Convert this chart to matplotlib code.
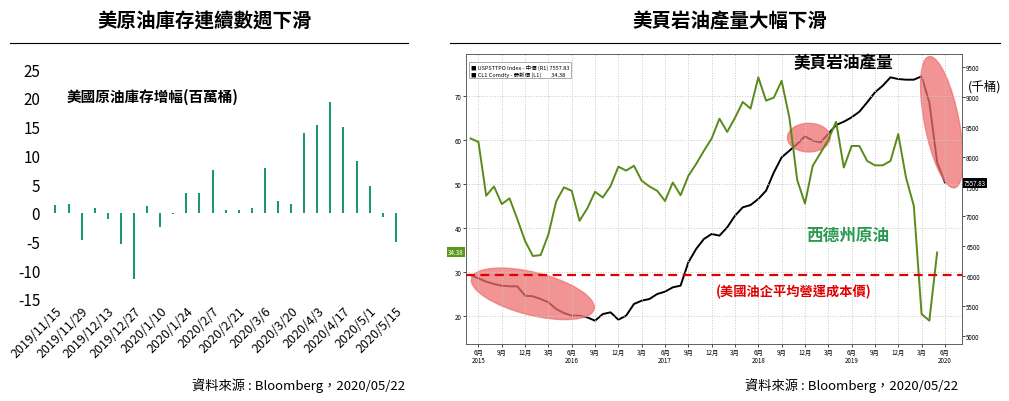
import matplotlib
matplotlib.use("Agg")
import matplotlib.pyplot as plt
from matplotlib.patches import Ellipse
import numpy as np

plt.rcParams['font.family'] = ['Noto Sans CJK TC', 'DejaVu Sans']

# ---- left chart data ----
weeks = ["2019/11/15","2019/11/22","2019/11/29","2019/12/6","2019/12/13","2019/12/20","2019/12/27",
         "2020/1/3","2020/1/10","2020/1/17","2020/1/24","2020/1/31","2020/2/7","2020/2/14","2020/2/21",
         "2020/2/28","2020/3/6","2020/3/13","2020/3/20","2020/3/27","2020/4/3","2020/4/10","2020/4/17",
         "2020/4/24","2020/5/1","2020/5/8","2020/5/15"]
inv_change = [1.3, 1.6, -4.8, 0.8, -1.1, -5.5, -11.5, 1.2, -2.5, -0.3, 3.5, 3.4, 7.5, 0.4, 0.4,
              0.8, 7.7, 2.0, 1.6, 13.8, 15.2, 19.2, 15.0, 9.0, 4.6, -0.7, -5.0]
left_yticks = [-15, -10, -5, 0, 5, 10, 15, 20, 25]

# ---- right chart data (monthly, May 2015 onward) ----
wti = [60.3, 59.5, 47.3, 49.4, 45.4, 46.7, 42.0, 37.0, 33.6, 33.8, 38.5, 46.0, 49.2, 48.4, 41.6,
       44.4, 48.2, 46.9, 49.5, 53.9, 53.0, 54.1, 50.7, 49.4, 48.4, 46.1, 50.3, 47.4, 51.8, 54.5,
       57.5, 60.3, 64.8, 61.8, 65.0, 68.6, 67.1, 74.2, 68.9, 69.6, 73.4, 65.0, 50.9, 45.5, 54.1,
       57.0, 60.0, 64.1, 53.7, 58.6, 58.6, 55.2, 54.2, 54.2, 55.2, 61.3, 51.4, 45.0, 20.4, 18.9, 34.4]
shale = [6016, 5960, 5904, 5865, 5837, 5826, 5826, 5669, 5658, 5613, 5557, 5445, 5378, 5333, 5333,
         5305, 5249, 5361, 5389, 5266, 5333, 5529, 5585, 5613, 5697, 5736, 5809, 5837, 6228, 6452,
         6620, 6704, 6676, 6816, 7011, 7151, 7190, 7291, 7431, 7738, 7990, 8102, 8214, 8342, 8270,
         8242, 8382, 8532, 8588, 8661, 8756, 8913, 9080, 9192, 9332, 9304, 9293, 9293, 9349, 8913,
         7906, 7570]
cost_line = 29.3
left2_ticks = [20, 30, 40, 50, 60, 70]
right2_ticks = [5000, 5500, 6000, 6500, 7000, 7500, 8000, 8500, 9000, 9500]

W, H = 1009, 402
fig = plt.figure(figsize=(W/100, H/100), dpi=100)
def ax_px(x0, y0, x1, y1):
    return fig.add_axes([x0/W, 1-y1/H, (x1-x0)/W, (y1-y0)/H])

# titles and rules
fig.text(205/W, 1-22/H, "美原油庫存連續數週下滑", ha='center', va='center', fontsize=14, fontweight='bold')
fig.text(730/W, 1-22/H, "美頁岩油產量大幅下滑", ha='center', va='center', fontsize=14, fontweight='bold')
fig.add_artist(plt.Line2D([10/W, 408/W], [1-44/H]*2, color='black', lw=0.8))
fig.add_artist(plt.Line2D([450/W, 1000/W], [1-44/H]*2, color='black', lw=0.8))
fig.text(405/W, 1-386/H, "資料來源 : Bloomberg，2020/05/22", ha='right', va='center', fontsize=9.5)
fig.text(958/W, 1-386/H, "資料來源 : Bloomberg，2020/05/22", ha='right', va='center', fontsize=9.5)

# ---- left ----
ax = ax_px(45, 70, 405, 300)
x = np.arange(len(weeks))
ax.bar(x, inv_change, width=0.15, color='#1a9a6c')
ax.set_ylim(-15, 25)
ax.set_xlim(-0.8, len(weeks)-0.3)
ax.set_yticks(left_yticks)
ax.set_yticklabels([str(v) for v in left_yticks], fontsize=11)
ax.set_xticks(x[::2])
ax.set_xticklabels(weeks[::2], rotation=45, ha='right', rotation_mode='anchor', fontsize=9)
for s in ax.spines.values():
    s.set_visible(False)
ax.tick_params(length=0)
ax.text(0.06, 0.86, "美國原油庫存增幅(百萬桶)", transform=ax.transAxes, fontsize=10.5, fontweight='bold')

# ---- right ----
a2 = ax_px(466, 55, 962, 345)
m = np.arange(len(shale))
a2.plot(np.arange(len(wti)), wti, color='#5a8a1a', lw=1.4)
a2.set_ylim(13.6, 79.5)
a2.set_xlim(-0.6, 63.2)
a2.axhline(cost_line, color='#e00000', ls='--', lw=1.6, dashes=(4, 2.5))
a2.set_yticks(left2_ticks)
a2.set_yticklabels([str(v) for v in left2_ticks], fontsize=4.5)
a2.grid(True, color='#c8c8c8', ls=':', lw=0.7)
b = a2.twinx()
b.plot(m, shale, color='black', lw=1.4)
b.set_ylim(4858, 9724)
b.set_yticks(right2_ticks)
b.set_yticklabels([str(v) for v in right2_ticks], fontsize=4.5)
xt = list(range(1, 62, 3))
mon = ['6月', '9月', '12月', '3月']
a2.set_xticks(xt)
a2.set_xticklabels([mon[i % 4] for i in range(len(xt))], fontsize=4.5)
for i, yr in enumerate(['2015', '2016', '2017', '2018', '2019', '2020']):
    a2.text(1 + 12*i, -0.04, yr, transform=a2.get_xaxis_transform(), ha='center', va='top', fontsize=4.5)
for axx in (a2, b):
    axx.tick_params(length=2, width=0.5, pad=1)
    for s in axx.spines.values():
        s.set_linewidth(0.5)
        s.set_color('#555555')
# ellipses
a2.add_patch(Ellipse((8, 25.0), 17.5, 9, angle=-30, color='#f07070', alpha=0.75, zorder=0))
a2.add_patch(Ellipse((43.5, 60.5), 5.5, 6.5, color='#f07070', alpha=0.75, zorder=0))
a2.add_patch(Ellipse((60.6, 64), 4.5, 30, angle=6, color='#f07070', alpha=0.75, zorder=0))
a2.set_zorder(b.get_zorder()+1); a2.patch.set_visible(False)
a2.text(0.76, 0.955, "美頁岩油產量", transform=a2.transAxes, ha='center', fontsize=12, fontweight='bold')
a2.text(0.77, 0.36, "西德州原油", transform=a2.transAxes, ha='center', fontsize=12, fontweight='bold', color='#2a9a50')
a2.text(0.66, 0.17, "(美國油企平均營運成本價)", transform=a2.transAxes, ha='center', fontsize=9.5, fontweight='bold', color='#e00000')
fig.text(985/W, 1-87/H, "(千桶)", ha='center', va='center', fontsize=9)
# legend box
a2.text(0.01, 0.965, "■ USPSTTPO Index - 中價 (R1) 7557.83\n■ CL1 Comdty - 最新價 (L1)        34.38",
        transform=a2.transAxes, fontsize=4, va='top',
        bbox=dict(boxstyle='square,pad=0.3', fc='white', ec='#888888', lw=0.5))
# value tags
fig.text(975/W, 1-184/H, "7557.83", ha='center', va='center', fontsize=4.5, color='white',
         bbox=dict(boxstyle='square,pad=0.2', fc='black', ec='none'))
fig.text(456/W, 1-253/H, "34.38", ha='center', va='center', fontsize=4.5, color='white',
         bbox=dict(boxstyle='square,pad=0.2', fc='#5a9a1a', ec='none'))

fig.savefig("out.png", dpi=100)
